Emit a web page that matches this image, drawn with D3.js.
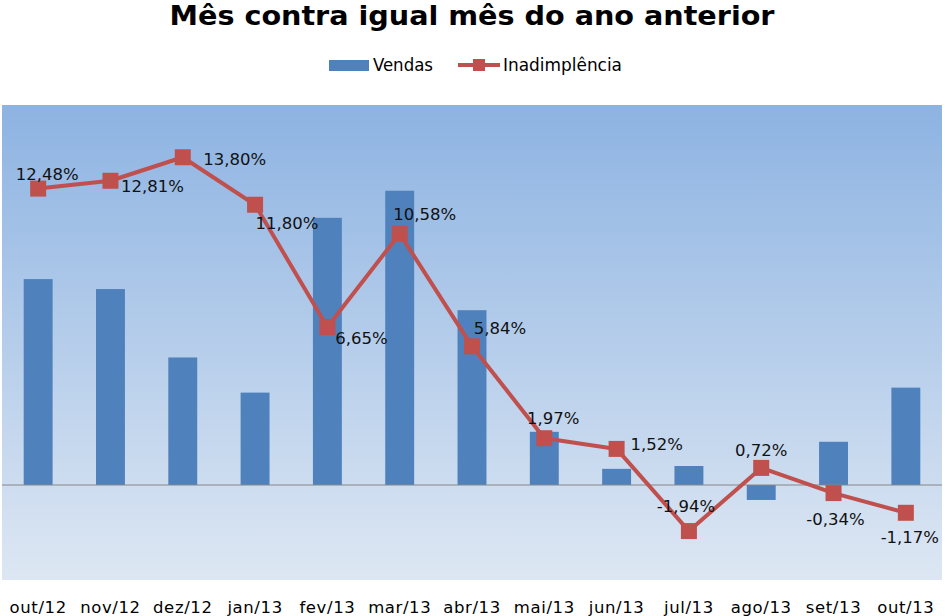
<!DOCTYPE html>
<html><head><meta charset="utf-8">
<script src="https://cdn.jsdelivr.net/npm/d3@7"></script>
<style>body{margin:0;background:#fff}svg{display:block}</style>
</head><body>
<script>
const categories = ["out/12","nov/12","dez/12","jan/13","fev/13","mar/13","abr/13","mai/13","jun/13","jul/13","ago/13","set/13","out/13"];
const vendas = [8.67, 8.25, 5.37, 3.89, 11.25, 12.39, 7.36, 2.24, 0.68, 0.80, -0.63, 1.82, 4.10];
const inadimplencia = [12.48, 12.81, 13.80, 11.80, 6.65, 10.58, 5.84, 1.97, 1.52, -1.94, 0.72, -0.34, -1.17];
const labelOffsets = [[9,-14],[42,5],[52,2],[32,18],[34,11],[25,-20],[28,-18],[9,-20],[40,-5],[-3,-25],[0,-18],[2,26],[4,24]];
const seriesNames = ["Vendas", "Inadimplência"];
const title = "Mês contra igual mês do ano anterior";

const W = 945, H = 616;
const svg = d3.select("body").append("svg").attr("width", W).attr("height", H);
const plot = {l: 2, r: 942, t: 105, b: 580};
const x = d3.scaleBand().domain(categories).range([plot.l, plot.r]).paddingInner(0.6).paddingOuter(0.3);
const xc = d => x(d) + x.bandwidth() / 2;
const y = d3.scaleLinear().domain([-4, 16]).range([plot.b, plot.t]);
const fmt = v => v.toFixed(2).replace(".", ",") + "%";

const defs = svg.append("defs");
const g = defs.append("linearGradient").attr("id", "bg").attr("x1", 0).attr("y1", 0).attr("x2", 0).attr("y2", 1);
g.append("stop").attr("offset", "0%").attr("stop-color", "#8db3e2");
g.append("stop").attr("offset", "100%").attr("stop-color", "#dde7f3");
svg.append("rect").attr("x", plot.l).attr("y", plot.t).attr("width", plot.r - plot.l).attr("height", plot.b - plot.t).attr("fill", "url(#bg)");

svg.append("text").attr("x", 472).attr("y", 25).attr("text-anchor", "middle")
  .attr("font-family", "DejaVu Sans Condensed, DejaVu Sans").attr("font-weight", "bold").attr("font-size", 27)
  .attr("textLength", 605).attr("lengthAdjust", "spacingAndGlyphs").text(title);

// legend
const lg = svg.append("g").attr("font-family", "DejaVu Sans Condensed, DejaVu Sans").attr("font-size", 17);
lg.append("rect").attr("x", 329).attr("y", 60).attr("width", 40).attr("height", 11).attr("fill", "#4f81bd");
lg.append("text").attr("x", 373).attr("y", 71).attr("textLength", 60).attr("lengthAdjust", "spacingAndGlyphs").text(seriesNames[0]);
lg.append("line").attr("x1", 458).attr("x2", 500).attr("y1", 65).attr("y2", 65).attr("stroke", "#c0504d").attr("stroke-width", 4);
lg.append("rect").attr("x", 473).attr("y", 59).attr("width", 12).attr("height", 12).attr("fill", "#c0504d");
lg.append("text").attr("x", 503).attr("y", 71).attr("textLength", 119).attr("lengthAdjust", "spacingAndGlyphs").text(seriesNames[1]);

// bars
svg.append("g").selectAll("rect").data(categories).join("rect")
  .attr("x", d => x(d)).attr("width", x.bandwidth())
  .attr("y", (d, i) => y(Math.max(0, vendas[i])))
  .attr("height", (d, i) => Math.abs(y(vendas[i]) - y(0)))
  .attr("fill", "#4f81bd");

// zero axis
svg.append("line").attr("x1", plot.l).attr("x2", plot.r).attr("y1", y(0)).attr("y2", y(0)).attr("stroke", "#868686").attr("stroke-width", 1);

// x axis labels
const xAxis = d3.axisBottom(x).tickSize(0).tickPadding(0);
const ax = svg.append("g").attr("transform", `translate(0,${plot.b})`).call(xAxis);
ax.select(".domain").remove();
ax.selectAll("text").attr("font-family", "DejaVu Sans").attr("font-size", 16.5).attr("letter-spacing", "0.6px").attr("fill", "#000")
  .attr("dy", null).attr("y", 33);

// line
const line = d3.line().x((d, i) => xc(categories[i])).y(d => y(d));
svg.append("path").datum(inadimplencia).attr("d", line).attr("fill", "none").attr("stroke", "#c0504d").attr("stroke-width", 4).attr("stroke-linejoin", "round");
svg.append("g").selectAll("rect").data(inadimplencia).join("rect")
  .attr("x", (d, i) => xc(categories[i]) - 8).attr("y", d => y(d) - 8)
  .attr("width", 16).attr("height", 16).attr("fill", "#c0504d");

// labels
svg.append("g").selectAll("text").data(inadimplencia).join("text")
  .attr("x", (d, i) => xc(categories[i]) + labelOffsets[i][0])
  .attr("y", (d, i) => y(d) + labelOffsets[i][1])
  .attr("dy", "0.35em").attr("text-anchor", "middle")
  .attr("font-family", "DejaVu Sans").attr("font-size", 16.5).attr("fill", "#111")
  .text(fmt);
</script>
</body></html>
